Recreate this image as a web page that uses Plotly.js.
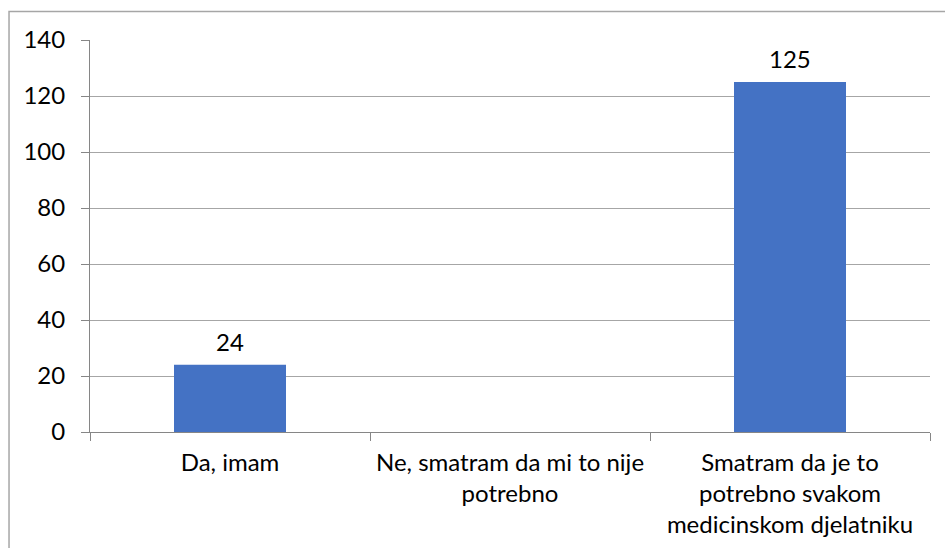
<!DOCTYPE html>
<html>
<head>
<meta charset="utf-8">
<script src="https://cdn.plot.ly/plotly-3.0.1.min.js"></script>
<style>
html,body{margin:0;padding:0;background:#fff;}
#chart{width:945px;height:548px;}
</style>
</head>
<body>
<div id="chart"></div>
<script>
const categories = [
  "Da, imam",
  "Ne, smatram da mi to nije<br>potrebno",
  "Smatram da je to<br>potrebno svakom<br>medicinskom djelatniku"
];
const values = [24, null, 125];
const valueLabels = ["24", "", "125"];
const yTicks = [0, 20, 40, 60, 80, 100, 120, 140];

const font = {family: "Lato, 'Open Sans', sans-serif", size: 24, color: "#000"};

const trace = {
  type: "bar",
  x: categories,
  y: values,
  marker: {color: "#4472C4"},
  hoverinfo: "none"
};

const annotations = categories.map((c, i) => values[i] == null ? null : ({
  x: c, y: values[i], xref: "x", yref: "y",
  text: valueLabels[i], showarrow: false,
  yanchor: "bottom", yshift: 7, font: font
})).filter(a => a);

const layout = {
  width: 945, height: 548,
  margin: {l: 90, r: 15, t: 40, b: 116},
  paper_bgcolor: "#fff", plot_bgcolor: "#fff",
  font: font,
  bargap: 0.6,
  showlegend: false,
  annotations: annotations,
  xaxis: {
    type: "category",
    showline: true, linecolor: "#868686", linewidth: 1,
    ticks: "outside", ticklen: 8, tickcolor: "#868686",
    tickson: "boundaries",
    showgrid: false,
    tickfont: font,
    ticklabelstandoff: 9
  },
  yaxis: {
    range: [0, 140],
    tickvals: yTicks,
    showline: true, linecolor: "#868686", linewidth: 1,
    ticks: "outside", ticklen: 8, tickcolor: "#868686",
    showgrid: true, gridcolor: "#a6a6a6", gridwidth: 1,
    zeroline: false,
    tickfont: font,
    ticklabelstandoff: 11
  },
  shapes: [{
    type: "rect", xref: "paper", yref: "paper",
    x0: -0.0964, x1: 1.2, y0: -0.5, y1: 1.0727,
    line: {color: "#a6a6a6", width: 1.5},
    layer: "below"
  }]
};

Plotly.newPlot("chart", [trace], layout, {displayModeBar: false, staticPlot: true});
</script>
</body>
</html>
